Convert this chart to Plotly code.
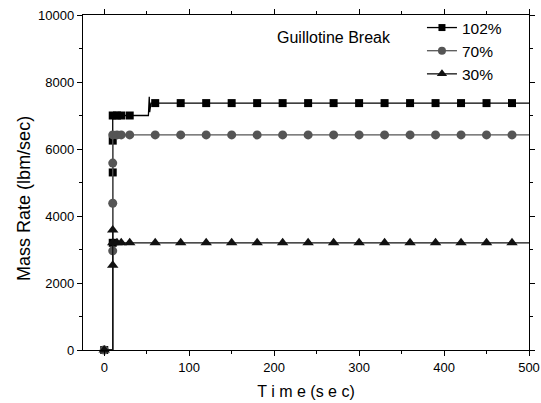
import plotly.graph_objects as go

# ---- data ----
later_times = [60, 90, 120, 150, 180, 210, 240, 270, 300, 330, 360, 390, 420, 450, 480]

# 102 %
t102_line = [0, 10, 10, 10, 10, 10, 15, 20, 30, 52, 53, 53.5, 55] + later_times + [500]
v102_line = [0, 0, 3200, 5300, 6250, 7000, 7000, 7000, 7000, 7000, 7560, 7100, 7370] + [7370] * len(later_times) + [7370]
t102_mark = [0, 10, 10, 10, 10, 15, 20, 30] + later_times
v102_mark = [0, 3200, 5300, 6250, 7000, 7000, 7000, 7000] + [7370] * len(later_times)

# 70 %
t70_line = [0, 10, 10, 10, 10, 10, 15, 20, 30] + later_times + [500]
v70_line = [0, 0, 2960, 4380, 5580, 6420, 6420, 6420, 6420] + [6420] * len(later_times) + [6420]
t70_mark = [0, 10, 10, 10, 10, 15, 20, 30] + later_times
v70_mark = [0, 2960, 4380, 5580, 6420, 6420, 6420, 6420] + [6420] * len(later_times)

# 30 %
t30_line = [0, 10, 10, 10, 10, 15, 20, 30] + later_times + [500]
v30_line = [0, 0, 2530, 3580, 3200, 3200, 3200, 3200] + [3200] * len(later_times) + [3200]
t30_mark = [0, 10, 10, 10, 15, 20, 30] + later_times
v30_mark = [0, 2530, 3580, 3200, 3200, 3200, 3200] + [3200] * len(later_times)

series_names = ["102%", "70%", "30%"]
x_ticks = [0, 100, 200, 300, 400, 500]
y_ticks = [0, 2000, 4000, 6000, 8000, 10000]

series = [
    (series_names[0], t102_line, v102_line, t102_mark, v102_mark, "#000000", "square", 8),
    (series_names[1], t70_line, v70_line, t70_mark, v70_mark, "#555555", "circle", 9),
    (series_names[2], t30_line, v30_line, t30_mark, v30_mark, "#111111", "triangle-up", 10),
]

fig = go.Figure()
for name, tl, vl, tm, vm, col, sym, size in series:
    fig.add_trace(go.Scatter(x=tl, y=vl, mode="lines", line=dict(color=col, width=1.3),
                             showlegend=False, cliponaxis=False, hoverinfo="skip"))
    fig.add_trace(go.Scatter(x=tm, y=vm, mode="markers",
                             marker=dict(symbol=sym, size=size, color=col),
                             showlegend=False, cliponaxis=False))
    fig.add_trace(go.Scatter(x=[None], y=[None], mode="lines+markers", name=name,
                             line=dict(color=col, width=1.3),
                             marker=dict(symbol=sym, size=size - 1, color=col)))

fig.add_annotation(x=0.563, y=0.934, xref="paper", yref="paper", text="Guillotine Break",
                   showarrow=False, xanchor="center", yanchor="middle",
                   font=dict(size=16, color="#000"))
# y-axis title (placed as in the reference, slightly below the axis centre)
fig.add_annotation(x=-0.1323, y=0.454, xref="paper", yref="paper", text="Mass Rate (lbm/sec)",
                   showarrow=False, xanchor="center", yanchor="middle", textangle=-90,
                   font=dict(size=18, color="#000"))

axis_common = dict(showline=True, linecolor="black", linewidth=1.3, mirror="allticks",
                   ticks="outside", ticklen=5, tickwidth=1, tickcolor="black",
                   showgrid=False, zeroline=False, automargin=False,
                   tickfont=dict(size=13, color="#000"))

fig.update_xaxes(range=[-25, 500], tickvals=x_ticks, ticktext=[str(v) for v in x_ticks],
                 minor=dict(dtick=50, tick0=0, ticks="outside", ticklen=3, tickcolor="black", showgrid=False),
                 title=dict(text="T i m e (s e c)", font=dict(size=16, color="#000"), standoff=12),
                 **axis_common)
fig.update_yaxes(range=[0, 10000], tickvals=y_ticks, ticktext=[str(v) for v in y_ticks],
                 minor=dict(dtick=1000, tick0=0, ticks="outside", ticklen=3, tickcolor="black", showgrid=False),
                 **axis_common)

fig.update_layout(
    width=541, height=403,
    margin=dict(l=83, r=12, t=15, b=53, autoexpand=False),
    paper_bgcolor="white", plot_bgcolor="white",
    font=dict(family="Liberation Sans, Arial, sans-serif", color="#000"),
    legend=dict(x=0.760, y=1.012, xanchor="left", yanchor="top",
                bgcolor="rgba(0,0,0,0)", font=dict(size=15.5), tracegroupgap=0),
)

fig.write_html("out.html")
